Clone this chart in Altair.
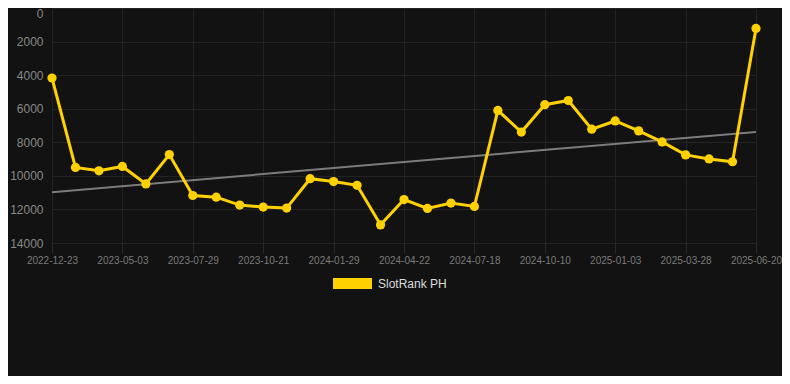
import altair as alt
import pandas as pd

dates = [
    "2022-12-23", "2023-02-05", "2023-03-20", "2023-05-03", "2023-06-01",
    "2023-06-30", "2023-07-29", "2023-08-26", "2023-09-23", "2023-10-21",
    "2023-11-23", "2023-12-27", "2024-01-29", "2024-02-26", "2024-03-25",
    "2024-04-22", "2024-05-21", "2024-06-19", "2024-07-18", "2024-08-14",
    "2024-09-11", "2024-10-10", "2024-11-07", "2024-12-05", "2025-01-03",
    "2025-01-31", "2025-02-28", "2025-03-28", "2025-04-25", "2025-05-23",
    "2025-06-20",
]
ranks = [
    4170, 9500, 9700, 9440, 10480, 8730, 11170, 11270, 11740, 11860,
    11920, 10170, 10340, 10560, 12920, 11410, 11940, 11620, 11820, 6100,
    7390, 5760, 5510, 7220, 6730, 7320, 7980, 8750, 8990, 9160, 1220,
]
series_name = "SlotRank PH"
trend_dates = ["2022-12-23", "2025-06-20"]
trend_values = [10970, 7380]
tick_dates = dates[::3]
y_ticks = [0, 2000, 4000, 6000, 8000, 10000, 12000, 14000]

df = pd.DataFrame({"date": dates, "rank": ranks, "series": series_name})
tdf = pd.DataFrame({"date": trend_dates, "rank": trend_values})

YEL = "#FFD100"

x = alt.X(
    "date:O",
    scale=alt.Scale(type="point", domain=dates, padding=0),
    axis=alt.Axis(
        values=tick_dates, labelAngle=0, title=None, labelColor="#7a7a7a",
        labelFontSize=10, labelFont="Liberation Sans", domain=False,
        tickColor="#2a2a2a", tickSize=10, gridColor="#232323", grid=True,
        labelPadding=2,
    ),
)
y = alt.Y(
    "rank:Q",
    scale=alt.Scale(domain=[0, 14000], reverse=True, nice=False),
    axis=alt.Axis(
        values=y_ticks, format="d", title=None, labelColor="#888888",
        labelFontSize=12, labelFont="Liberation Sans", domain=False,
        ticks=False, gridColor="#232323", labelPadding=9,
        labelOffset={"condition": {"test": "datum.value == 0", "value": 5}, "value": 0},
    ),
)

trend = alt.Chart(tdf).mark_line(color="#7c7c7c", strokeWidth=2).encode(x=x, y=y)
line = alt.Chart(df).mark_line(color=YEL, strokeWidth=3).encode(x=x, y=y)
pts = alt.Chart(df).mark_point(filled=True, opacity=1, size=85).encode(
    x=x,
    y=y,
    color=alt.Color(
        "series:N",
        scale=alt.Scale(domain=[series_name], range=[YEL]),
        legend=alt.Legend(
            title=None, orient="none", legendX=281, legendY=256,
            symbolType="M-1,-0.282L1,-0.282L1,0.282L-1,0.282Z",
            symbolSize=1521, symbolStrokeWidth=0, symbolOpacity=1,
            labelColor="#dddddd", labelFontSize=12, labelFont="Liberation Sans",
            labelOffset=6,
        ),
    ),
)

chart = (
    alt.layer(trend, line, pts)
    .properties(
        width=704, height=235, background="#121212",
        autosize=alt.AutoSizeParams(type="none"),
        padding={"left": 44, "top": 0, "right": 26, "bottom": 133},
    )
    .configure_view(stroke=None)
)
chart.save("out.html", embed_options={"renderer": "svg", "actions": False})
